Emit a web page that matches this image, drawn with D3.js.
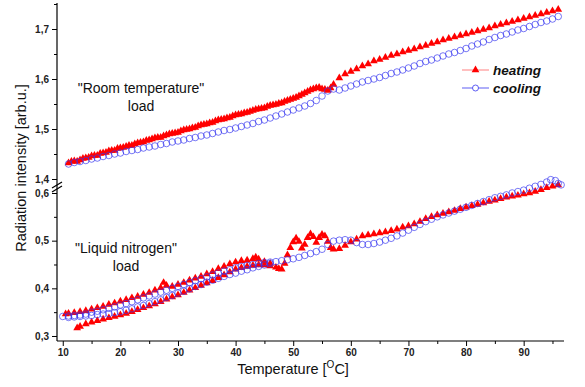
<!DOCTYPE html>
<html>
<head>
<meta charset="utf-8">
<script src="https://cdn.jsdelivr.net/npm/d3@7"></script>
<style>
  body { margin: 0; background: #fff; }
</style>
</head>
<body>
<div id="chart"></div>
<script>
// "Room temperature" load, [T, intensity]
const roomHeating = [
  [11,1.432],[12,1.436],[13,1.438],[14,1.442],[15,1.446],[16,1.447],[17,1.452],[18,1.456],[19,1.457],[20,1.462],
  [21,1.465],[22,1.467],[23,1.472],[24,1.474],[25,1.478],[26,1.482],[27,1.483],[28,1.488],[29,1.491],[30,1.493],
  [31,1.498],[32,1.500],[33,1.503],[34,1.508],[35,1.510],[36,1.513],[37,1.518],[38,1.520],[39,1.523],[40,1.528],
  [41,1.530],[42,1.533],[43,1.537],[44,1.540],[45,1.542],[46,1.547],[47,1.549],[48,1.552],[49,1.557],[50,1.561],
  [51,1.566],[52,1.572],[53,1.578],[54,1.582],[55,1.580],[56,1.577],[57,1.589],[58,1.602],[59,1.610],[60,1.615],
  [61,1.620],[62,1.626],[63,1.630],[64,1.636],[65,1.639],[66,1.643],[67,1.647],[68,1.650],[69,1.654],[70,1.657],
  [71,1.660],[72,1.664],[73,1.667],[74,1.671],[75,1.674],[76,1.678],[77,1.681],[78,1.684],[79,1.687],[80,1.690],
  [81,1.693],[82,1.696],[83,1.699],[84,1.702],[85,1.706],[86,1.709],[87,1.712],[88,1.715],[89,1.718],[90,1.721],
  [91,1.724],[92,1.727],[93,1.730],[94,1.733],[95,1.736],[96,1.739],
  // denser sampling below 57 °C
  [11.5,1.435],[12.5,1.435],[13.5,1.441],[14.5,1.443],[15.5,1.447],[16.5,1.451],[17.5,1.453],[18.5,1.457],
  [19.5,1.461],[20.5,1.463],[21.5,1.467],[22.5,1.470],[23.5,1.473],[24.5,1.477],[25.5,1.480],[26.5,1.483],
  [27.5,1.486],[28.5,1.490],[29.5,1.492],[30.5,1.496],[31.5,1.499],[32.5,1.502],[33.5,1.506],[34.5,1.509],
  [35.5,1.512],[36.5,1.516],[37.5,1.519],[38.5,1.522],[39.5,1.526],[40.5,1.529],[41.5,1.532],[42.5,1.535],
  [43.5,1.539],[44.5,1.541],[45.5,1.545],[46.5,1.548],[47.5,1.551],[48.5,1.555],[49.5,1.559],[50.5,1.563],
  [51.5,1.569],[52.5,1.575],[53.5,1.580],[54.5,1.583],[55.5,1.579],[56.5,1.582]
];
const roomCooling = [
  [11,1.430],[12,1.433],[13,1.435],[14,1.437],[15,1.440],[16,1.442],[17,1.445],[18,1.447],[19,1.450],[20,1.452],
  [21,1.455],[22,1.457],[23,1.459],[24,1.462],[25,1.464],[26,1.466],[27,1.469],[28,1.471],[29,1.474],[30,1.476],
  [31,1.478],[32,1.481],[33,1.483],[34,1.486],[35,1.488],[36,1.491],[37,1.494],[38,1.497],[39,1.499],[40,1.502],
  [41,1.505],[42,1.508],[43,1.511],[44,1.515],[45,1.518],[46,1.522],[47,1.526],[48,1.530],[49,1.534],[50,1.538],
  [51,1.542],[52,1.546],[53,1.551],[54,1.557],[55,1.566],[56,1.576],[57,1.580],[58,1.578],[59,1.582],[60,1.586],
  [61,1.590],[62,1.594],[63,1.597],[64,1.600],[65,1.603],[66,1.607],[67,1.611],[68,1.614],[69,1.618],[70,1.622],
  [71,1.626],[72,1.631],[73,1.635],[74,1.638],[75,1.642],[76,1.646],[77,1.650],[78,1.653],[79,1.657],[80,1.661],
  [81,1.666],[82,1.670],[83,1.674],[84,1.679],[85,1.683],[86,1.687],[87,1.690],[88,1.694],[89,1.698],[90,1.701],
  [91,1.705],[92,1.709],[93,1.713],[94,1.716],[95,1.720],[96,1.725]
];

// "Liquid nitrogen" load, two branches per run
const nitroHeatingA = [
  [10.5,0.346],[11,0.347],[12,0.349],[13,0.351],[14,0.353],[15,0.356],[16,0.359],[17,0.362],[18,0.366],[19,0.369],
  [20,0.373],[21,0.376],[22,0.380],[23,0.383],[24,0.387],[25,0.391],[26,0.396],[27,0.401],[27.5,0.412],[28,0.406],
  [29,0.404],[30,0.408],[31,0.412],[32,0.417],[33,0.421],[34,0.425],[35,0.430],[36,0.435],[37,0.441],[38,0.446],
  [39,0.451],[40,0.455],[41,0.458],[42,0.459],[43,0.462],[43.5,0.465],[44,0.461],[45,0.456],[46,0.452]
];
const nitroHeatingB = [
  [12.5,0.317],[13,0.320],[14,0.325],[15,0.329],[16,0.332],[17,0.335],[18,0.338],[19,0.341],[20,0.344],
  [21,0.347],[22,0.351],[23,0.355],[24,0.359],[25,0.363],[26,0.367],[27,0.372],[28,0.377],[29,0.382],[30,0.386],
  [31,0.391],[32,0.396],[33,0.401],[34,0.406],[35,0.411],[36,0.416],[37,0.422],[38,0.428],[39,0.434],[40,0.440],
  [41,0.443],[42,0.446],[43,0.448],[44,0.449],[45,0.449],[46,0.447],[47,0.444],[47.5,0.441],[48,0.440],
  [48.5,0.452],[49,0.470],[49.5,0.485],[50,0.497],[50.5,0.505],[51,0.498],[51.5,0.484],[52,0.492],[52.5,0.506],
  [53,0.514],[53.5,0.508],[54,0.496],[54.5,0.506],[55,0.513],[55.5,0.510],[56,0.498],[56.5,0.485],[57,0.482],
  [58,0.483],[59,0.490],[60,0.497],[61,0.503],[62,0.510],[63,0.512],[64,0.514],[65,0.516],[66,0.518],[67,0.521],
  [68,0.524],[69,0.528],[70,0.531],[71,0.535],[72,0.540],[73,0.546],[74,0.550],[75,0.554],[76,0.557],[77,0.560],
  [78,0.563],[79,0.567],[80,0.570],[81,0.573],[82,0.576],[83,0.579],[84,0.582],[85,0.585],[86,0.588],[87,0.591],
  [88,0.593],[89,0.595],[90,0.598],[91,0.600],[92,0.603],[93,0.607],[94,0.611],[95,0.614],[96,0.617]
];
const nitroCoolingA = [
  [10,0.341],[11,0.342],[12,0.343],[13,0.344],[14,0.346],[15,0.350],[16,0.352],[17,0.355],[18,0.358],[19,0.361],
  [20,0.365],[21,0.368],[22,0.372],[23,0.376],[24,0.380],[25,0.384],[26,0.388],[27,0.392],[28,0.396],[29,0.400],
  [30,0.404],[31,0.408],[32,0.412],[33,0.416],[34,0.420],[35,0.424],[36,0.428],[37,0.432],[38,0.436],[39,0.439],
  [40,0.443],[41,0.446],[42,0.448],[43,0.450],[44,0.452],[45,0.454],[46,0.455],[47,0.456],[48,0.458],[49,0.460],
  [50,0.462],[51,0.465],[52,0.469],[53,0.473],[54,0.477],[55,0.482],[56,0.492],[57,0.499],[58,0.501],[59,0.502],
  [60,0.501],[61,0.496],[62,0.492],[63,0.492],[64,0.494],[65,0.497],[66,0.501],[67,0.505],[68,0.510],[69,0.516],
  [70,0.522],[71,0.528],[72,0.534],[73,0.540],[74,0.545],[75,0.550],[76,0.554],[77,0.558],[78,0.562],[79,0.566],
  [80,0.570],[81,0.574],[82,0.578],[83,0.582],[84,0.586],[85,0.590],[86,0.593],[87,0.596],[88,0.600],[89,0.603],
  [90,0.606],[91,0.610],[92,0.614],[93,0.618],[94,0.623],[94.7,0.628],[95.5,0.626],[96,0.620],[96.5,0.617]
];
const nitroCoolingB = [
  [11,0.339],[12,0.340],[13,0.341],[14,0.342],[15,0.343],[16,0.345],[17,0.346],[18,0.347],[19,0.349],[20,0.351],
  [21,0.354],[22,0.357],[23,0.361],[24,0.364],[25,0.368],[26,0.372],[27,0.376],[28,0.381],[29,0.385],[30,0.390],
  [31,0.394],[32,0.399],[33,0.404],[34,0.408],[35,0.413],[36,0.417],[37,0.421],[38,0.425],[39,0.429],[40,0.432],
  [41,0.436],[42,0.439],[43,0.443],[44,0.446],[45,0.449],[46,0.452]
];

const xTicks = [10, 20, 30, 40, 50, 60, 70, 80, 90];
const roomTicks = [1.4, 1.5, 1.6, 1.7];
const nitroTicks = [0.3, 0.4, 0.5, 0.6];
const seriesNames = ['heating', 'cooling'];

const width = 585, height = 387;
const red = '#ff0000', blue = '#3535f0';
const font = 'Arial, "Liberation Sans", sans-serif';

const svg = d3.select('#chart').append('svg')
  .attr('width', width)
  .attr('height', height)
  .style('font-family', font);

const x = d3.scaleLinear().domain([9, 97]).range([57, 564]);
const yRoom = d3.scaleLinear().domain([1.4, 1.752]).range([179, 3]);
const yNitro = d3.scaleLinear().domain([0.2895, 0.6]).range([341, 193]);
const comma = v => d3.format('.1f')(v).replace('.', ',');

// x axis: major + minor ticks
const minorX = d3.range(15, 96, 10);
const gx = svg.append('g').attr('transform', 'translate(0,341)');
gx.call(d3.axisBottom(x).tickValues(xTicks).tickSize(5).tickFormat(d3.format('d')));
gx.call(g => g.append('g').call(d3.axisBottom(x).tickValues(minorX).tickSize(3).tickFormat('')));
gx.selectAll('.domain').remove();
gx.append('line').attr('x1', 57).attr('x2', 564).attr('stroke', '#000').attr('stroke-width', 1.2);

// y axes (upper / lower segment)
function yAxis(scale, major, minor) {
  const g = svg.append('g').attr('transform', 'translate(57,0)');
  g.call(d3.axisLeft(scale).tickValues(major).tickSize(5).tickFormat(comma));
  g.append('g').call(d3.axisLeft(scale).tickValues(minor).tickSize(3).tickFormat(''));
  g.selectAll('.domain').remove();
  return g;
}
yAxis(yRoom, roomTicks, [1.45, 1.55, 1.65, 1.75]);
yAxis(yNitro, nitroTicks, [0.35, 0.45, 0.55]);
svg.append('line').attr('x1', 57).attr('x2', 57).attr('y1', 3).attr('y2', 341)
  .attr('stroke', '#000').attr('stroke-width', 1.2);

svg.selectAll('.tick text')
  .style('font-family', font)
  .style('font-size', '10px')
  .style('font-weight', 'bold')
  .attr('fill', '#222');
svg.selectAll('.tick line').attr('stroke', '#000');

// axis break marks
[0, 4].forEach(dy => {
  svg.append('line')
    .attr('x1', 52).attr('y1', 188 + dy).attr('x2', 62).attr('y2', 182 + dy)
    .attr('stroke', '#000').attr('stroke-width', 1.3);
});

// series
const tri = d3.symbol(d3.symbolTriangle).size(26);
function drawHeating(data, scale) {
  svg.append('g').selectAll('path')
    .data(data).enter().append('path')
    .attr('d', tri)
    .attr('transform', d => `translate(${x(d[0])},${scale(d[1])})`)
    .attr('fill', red);
}
function drawCooling(data, scale) {
  svg.append('g').selectAll('circle')
    .data(data).enter().append('circle')
    .attr('cx', d => x(d[0]))
    .attr('cy', d => scale(d[1]))
    .attr('r', 3.3)
    .attr('fill', 'none')
    .attr('stroke', blue)
    .attr('stroke-opacity', 0.75)
    .attr('stroke-width', 0.9);
}
drawHeating(roomHeating, yRoom);
drawCooling(roomCooling, yRoom);
drawHeating(nitroHeatingA, yNitro);
drawHeating(nitroHeatingB, yNitro);
drawCooling(nitroCoolingA, yNitro);
drawCooling(nitroCoolingB, yNitro);

// annotations
const note = (lines, cx, y0) => lines.forEach((t, i) => {
  svg.append('text').attr('x', cx).attr('y', y0 + i * 18)
    .attr('text-anchor', 'middle').style('font-size', '14px').attr('fill', '#111').text(t);
});
note(['"Room temperature"', 'load'], 141, 93);
note(['"Liquid nitrogen"', 'load'], 126, 253);

// legend
const legend = svg.append('g');
seriesNames.forEach((name, i) => {
  const ly = 70 + i * 18;
  const col = i === 0 ? red : blue;
  legend.append('line').attr('x1', 462).attr('x2', 489).attr('y1', ly).attr('y2', ly)
    .attr('stroke', col).attr('stroke-opacity', i === 0 ? 0.5 : 0.8).attr('stroke-width', 1);
  if (i === 0) {
    legend.append('path').attr('d', tri).attr('transform', `translate(475.5,${ly})`).attr('fill', red);
  } else {
    legend.append('circle').attr('cx', 475.5).attr('cy', ly).attr('r', 3)
      .attr('fill', '#fff').attr('stroke', blue).attr('stroke-width', 0.8);
  }
  legend.append('text').attr('x', 493).attr('y', ly + 4.5)
    .style('font-size', '13.5px').style('font-weight', 'bold').style('font-style', 'italic')
    .attr('fill', '#111').text(name);
});

// axis titles
const xt = svg.append('text').attr('x', 293).attr('y', 374).attr('text-anchor', 'middle')
  .style('font-size', '14.5px').attr('fill', '#111');
xt.append('tspan').text('Temperature [');
xt.append('tspan').attr('dy', -6).style('font-size', '10px').text('O');
xt.append('tspan').attr('dy', 6).text('C]');

svg.append('text')
  .attr('transform', 'translate(26,168) rotate(-90)')
  .attr('text-anchor', 'middle')
  .style('font-size', '14.5px').attr('fill', '#111')
  .text('Radiation intensity [arb.u.]');
</script>
</body>
</html>
